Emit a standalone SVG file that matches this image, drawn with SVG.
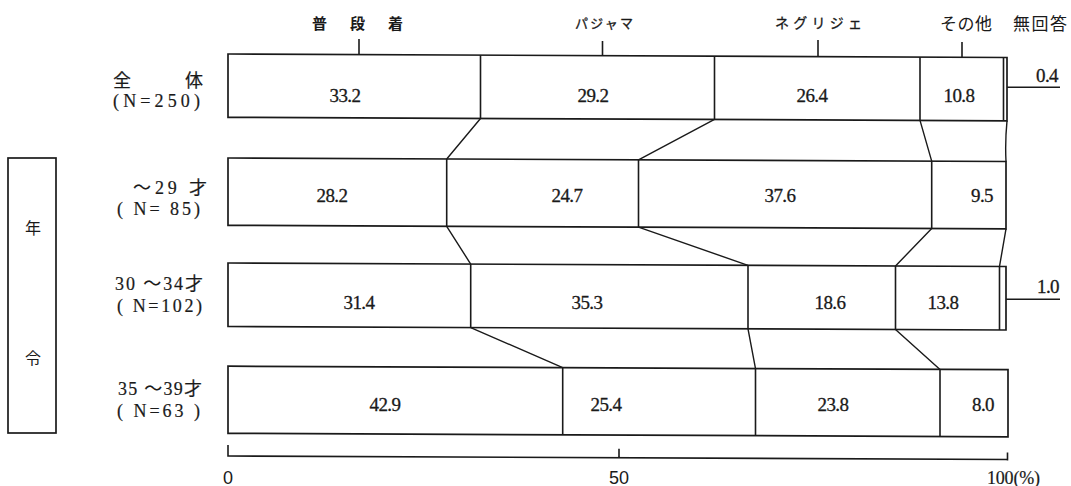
<svg xmlns="http://www.w3.org/2000/svg" width="1071" height="486" viewBox="0 0 1071 486">
<style>
.bar{fill:#fff;stroke:#1a1a1a;stroke-width:1.7}
.ln{fill:none;stroke:#1a1a1a;stroke-width:1.6}
.cn{fill:none;stroke:#1a1a1a;stroke-width:1.4}
.val{font-family:"Liberation Serif","Noto Sans CJK JP",serif;font-size:19px;fill:#1a1a1a;text-anchor:middle;letter-spacing:-0.6px;stroke:#1a1a1a;stroke-width:0.3}
.lab{font-family:"Liberation Serif","Noto Sans CJK JP",serif;font-size:18px;fill:#1a1a1a;stroke:#1a1a1a;stroke-width:0.2}
.cat{font-family:"Noto Sans CJK JP","Liberation Sans",sans-serif;fill:#1a1a1a}
.ax{font-family:"Liberation Sans",sans-serif;font-size:18px;fill:#1a1a1a;text-anchor:middle}
</style>
<rect width="1071" height="486" fill="#fff"/>

<g id="age-box">
<rect x="8" y="158" width="48" height="275" class="bar"/>
<text x="33" y="234" class="cat" font-size="16" text-anchor="middle">年</text>
<text x="33" y="364" class="cat" font-size="16" text-anchor="middle">令</text>
</g>

<g id="category-labels">
<text x="312" y="29" class="cat" font-size="15" font-weight="bold" textLength="91">普段着</text>
<line x1="359" y1="39" x2="359" y2="62" class="ln"/>
<text x="575" y="28" class="cat" font-size="13" textLength="58" stroke="#1a1a1a" stroke-width="0.3">パジャマ</text>
<line x1="602.5" y1="41" x2="602.5" y2="64" class="ln"/>
<text x="775" y="28" class="cat" font-size="14" textLength="87" stroke="#1a1a1a" stroke-width="0.3">ネグリジェ</text>
<line x1="818" y1="40" x2="818" y2="64" class="ln"/>
<text x="940" y="30" class="cat" font-size="17" textLength="52">その他</text>
<line x1="962" y1="42" x2="962" y2="65" class="ln"/>
<text x="1013" y="30" class="cat" font-size="17" textLength="54">無回答</text>
</g>

<g id="row-labels">
<text x="113" y="87" class="lab" textLength="90">全　　体</text>
<text x="113" y="107" class="lab" textLength="87">(N=250)</text>
<text x="133" y="194" class="lab" textLength="74">～29 才</text>
<text x="117" y="215" class="lab" textLength="83">( N= 85)</text>
<text x="115" y="290" class="lab" textLength="88">30 ～34才</text>
<text x="117" y="312" class="lab" textLength="85">( N=102)</text>
<text x="118" y="395" class="lab" textLength="84">35 ～39才</text>
<text x="117" y="417" class="lab" textLength="83">( N=63 )</text>
</g>

<g transform="matrix(1,0.0045,0,1,0,-1.026)">
<g id="row-total">
<rect x="228" y="54" width="779" height="63.3" class="bar"/>
<line x1="480.5" y1="54" x2="480.5" y2="117.3" class="ln"/>
<line x1="714.5" y1="54" x2="714.5" y2="117.3" class="ln"/>
<line x1="920" y1="54" x2="920" y2="117.3" class="ln"/>
<line x1="1003.5" y1="54" x2="1003.5" y2="117.3" class="ln"/>
</g>
<g id="row-29">
<rect x="228" y="158" width="778" height="67.3" class="bar"/>
<line x1="446.7" y1="158" x2="446.7" y2="225.3" class="ln"/>
<line x1="638.5" y1="158" x2="638.5" y2="225.3" class="ln"/>
<line x1="931.7" y1="158" x2="931.7" y2="225.3" class="ln"/>
</g>
<g id="row-30-34">
<rect x="228" y="263" width="778" height="63.5" class="bar"/>
<line x1="470.7" y1="263" x2="470.7" y2="326.5" class="ln"/>
<line x1="748" y1="263" x2="748" y2="326.5" class="ln"/>
<line x1="895.5" y1="263" x2="895.5" y2="326.5" class="ln"/>
<line x1="999.5" y1="263" x2="999.5" y2="326.5" class="ln"/>
</g>
<g id="row-35-39">
<rect x="228" y="366.2" width="780" height="67.1" class="bar"/>
<line x1="562.7" y1="366.2" x2="562.7" y2="433.3" class="ln"/>
<line x1="755.5" y1="366.2" x2="755.5" y2="433.3" class="ln"/>
<line x1="940" y1="366.2" x2="940" y2="433.3" class="ln"/>
</g>
<g id="connectors">
<path class="cn" d="M480.5,117.3 L446.7,158 M714.5,117.3 L638.5,158 M920,117.3 L931.7,158 M1007,117.3 Q1005,138 1006,158"/>
<path class="cn" d="M446.7,225.3 L470.7,263 M638.5,225.3 L748,263 M931.7,225.3 L895.5,263 M1006,225.3 L999.5,263"/>
<path class="cn" d="M470.7,326.5 L562.7,366.2 M748,326.5 L755.5,366.2 M895.5,326.5 L940,366.2"/>
</g>
<g id="axis">
<path class="ln" d="M228,445 L228,456 L1007.5,456 M619,447 L619,456 M1007.5,449 L1007.5,457"/>
</g>
</g>

<g id="values">
<text x="345" y="102" class="val">33.2</text>
<text x="593" y="102" class="val">29.2</text>
<text x="812" y="102" class="val">26.4</text>
<text x="959" y="102" class="val">10.8</text>
<text x="332" y="202" class="val">28.2</text>
<text x="567" y="202" class="val">24.7</text>
<text x="780" y="202" class="val">37.6</text>
<text x="982" y="202" class="val">9.5</text>
<text x="359" y="309" class="val">31.4</text>
<text x="587" y="309" class="val">35.3</text>
<text x="830" y="309" class="val">18.6</text>
<text x="943" y="309" class="val">13.8</text>
<text x="385" y="411" class="val">42.9</text>
<text x="606" y="411" class="val">25.4</text>
<text x="833" y="411" class="val">23.8</text>
<text x="983" y="411" class="val">8.0</text>
</g>

<g id="no-answer-callouts">
<line x1="1007" y1="87.3" x2="1060" y2="87.3" class="ln"/>
<text x="1047" y="82" class="val">0.4</text>
<line x1="1006" y1="299.3" x2="1060" y2="299.3" class="ln"/>
<text x="1048" y="293" class="val">1.0</text>
</g>

<g id="axis-labels">
<text x="228" y="484" class="ax">0</text>
<text x="619" y="484" class="ax">50</text>
<text x="987" y="484" class="lab" font-size="18" textLength="53">100(%)</text>
</g>
</svg>
